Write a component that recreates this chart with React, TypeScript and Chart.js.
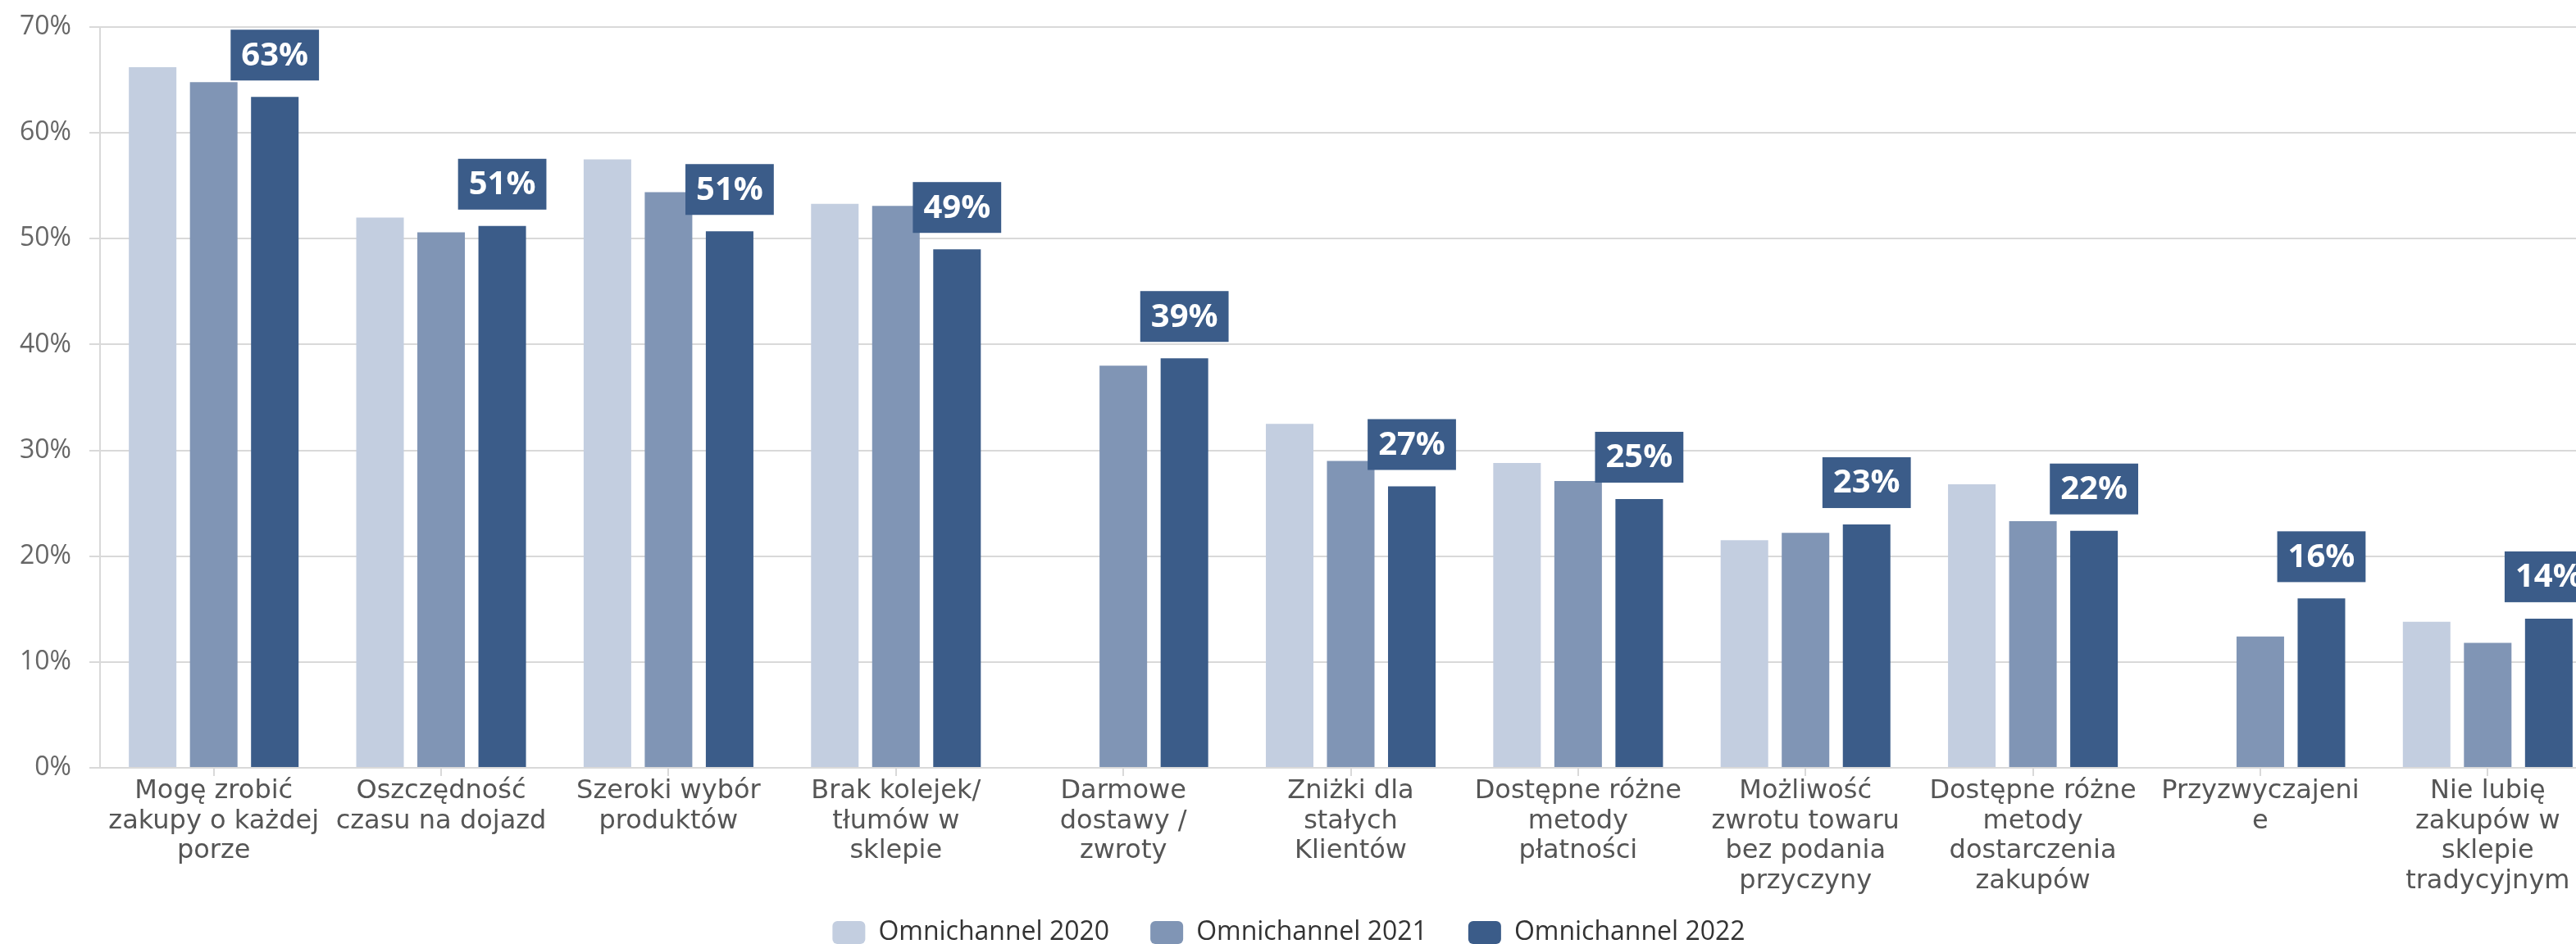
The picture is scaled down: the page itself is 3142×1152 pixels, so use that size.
import React, { useEffect, useRef } from "react";
import { Chart, registerables } from "chart.js";

Chart.register(...registerables);

// Reasons for shopping online, share of respondents per survey wave
const categories: string[][] = [
  ["Mogę zrobić", "zakupy o każdej", "porze"],
  ["Oszczędność", "czasu na dojazd"],
  ["Szeroki wybór", "produktów"],
  ["Brak kolejek/", "tłumów w", "sklepie"],
  ["Darmowe", "dostawy /", "zwroty"],
  ["Zniżki dla", "stałych", "Klientów"],
  ["Dostępne różne", "metody", "płatności"],
  ["Możliwość", "zwrotu towaru", "bez podania", "przyczyny"],
  ["Dostępne różne", "metody", "dostarczenia", "zakupów"],
  ["Przyzwyczajeni", "e"],
  ["Nie lubię", "zakupów w", "sklepie", "tradycyjnym"],
];

const seriesNames = ["Omnichannel 2020", "Omnichannel 2021", "Omnichannel 2022"];

const values2020: (number | null)[] = [66.2, 52.0, 57.5, 53.3, null, 32.5, 28.8, 21.5, 26.8, null, 13.8];
const values2021: (number | null)[] = [64.8, 50.6, 54.4, 53.1, 38.0, 29.0, 27.1, 22.2, 23.3, 12.4, 11.8];
const values2022: (number | null)[] = [63.4, 51.2, 50.7, 49.0, 38.7, 26.6, 25.4, 23.0, 22.4, 16.0, 14.1];

const yMin = 0;
const yMax = 70;
const yStep = 10;

const seriesColors = ["#c3cee0", "#8095b5", "#3b5c89"];
const gridColor = "#d9d9d9";

const CANVAS_W = 3173;
const CANVAS_H = 1189;

// Places the legend row under the plot, centred on the visible page
const legendPlacement = {
  id: "legendPlacement",
  afterLayout(chart: any) {
    const lg = chart.legend;
    if (!lg) return;
    const pad = lg.options.labels.padding;
    const dx = 1572 - (lg.left + lg.right) / 2;
    const dy = 1122 - (lg.top + pad);
    lg.left += dx;
    lg.right += dx;
    lg.top += dy;
    lg.bottom += dy;
  },
};

// Value boxes above the latest wave's bars
const valueBoxes = {
  id: "valueBoxes",
  afterDatasetsDraw(chart: any) {
    const ctx = chart.ctx as CanvasRenderingContext2D;
    const meta = chart.getDatasetMeta(2);
    ctx.save();
    ctx.font = 'bold 40px "Open Sans"';
    ctx.textAlign = "center";
    ctx.textBaseline = "middle";
    meta.data.forEach((el: any, i: number) => {
      const v = values2022[i];
      if (v == null) return;
      const text = Math.round(v) + "%";
      const tw = ctx.measureText(text).width;
      const w = tw + 26;
      const h = 62;
      const bottom = el.y - 20;
      ctx.fillStyle = seriesColors[2];
      ctx.fillRect(el.x - w / 2, bottom - h, w, h);
      ctx.fillStyle = "#ffffff";
      ctx.fillText(text, el.x, bottom - h / 2 + 1);
    });
    ctx.restore();
  },
};

export default function App() {
  const canvasRef = useRef<HTMLCanvasElement | null>(null);

  useEffect(() => {
    if (!canvasRef.current) return;
    const chart = new Chart(canvasRef.current, {
      type: "bar",
      data: {
        labels: categories,
        datasets: [values2020, values2021, values2022].map((vals, i) => ({
          label: seriesNames[i],
          data: vals,
          backgroundColor: seriesColors[i],
          borderColor: seriesColors[i],
          borderWidth: 0,
          categoryPercentage: 0.806,
          barPercentage: 0.7785,
        })),
      },
      options: {
        responsive: false,
        animation: false,
        layout: { padding: { top: 33, left: 0, right: 0, bottom: 0 } },
        plugins: {
          tooltip: { enabled: false },
          legend: {
            position: "bottom",
            labels: {
              color: "#333333",
              font: { family: '"Open Sans"', size: 32 },
              boxWidth: 40,
              boxHeight: 28,
              padding: 50,
              useBorderRadius: true,
              borderRadius: 6,
            },
          },
        },
        scales: {
          x: {
            grid: {
              display: true,
              drawOnChartArea: false,
              offset: false,
              color: gridColor,
              lineWidth: 2,
              tickLength: 10,
            },
            border: { display: true, color: gridColor, width: 2 },
            ticks: {
              color: "#555555",
              font: { family: '"DejaVu Sans"', size: 32, lineHeight: 1.15 },
              padding: 0,
              maxRotation: 0,
              minRotation: 0,
              autoSkip: false,
            },
            afterFit(scale: any) {
              scale.height = 160;
            },
          },
          y: {
            min: yMin,
            max: yMax,
            grid: { color: gridColor, lineWidth: 2, tickLength: 13 },
            border: { display: true, color: gridColor, width: 2 },
            ticks: {
              stepSize: yStep,
              color: "#666666",
              font: { family: '"Open Sans"', size: 32 },
              padding: 22,
              callback: (v: any) => v + "%",
            },
            afterFit(scale: any) {
              scale.width = 122;
              scale.paddingTop = 19;
              scale.paddingBottom = 19;
            },
          },
        },
      },
      plugins: [legendPlacement, valueBoxes],
    });
    return () => chart.destroy();
  }, []);

  return (
    <div
      style={{
        position: "fixed",
        left: 0,
        top: 0,
        width: "100vw",
        height: "100vh",
        overflow: "hidden",
        background: "#ffffff",
      }}
    >
      <canvas
        ref={canvasRef}
        width={CANVAS_W}
        height={CANVAS_H}
        style={{ position: "absolute", left: 0, top: 0, width: CANVAS_W, height: CANVAS_H }}
      />
    </div>
  );
}
